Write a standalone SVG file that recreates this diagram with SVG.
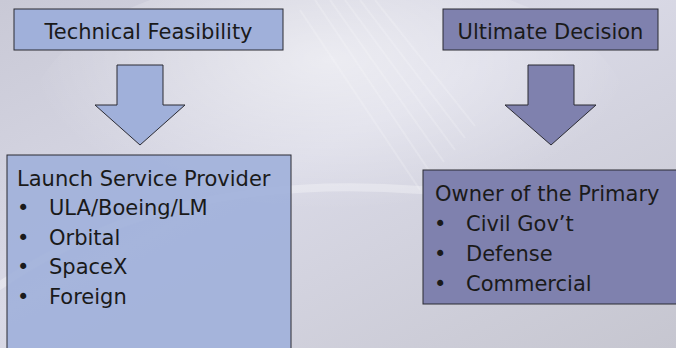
<svg xmlns="http://www.w3.org/2000/svg" width="676" height="348" viewBox="0 0 676 348">
<defs>
<linearGradient id="bg" x1="0" y1="0" x2="1" y2="1">
<stop offset="0" stop-color="#c9c9d6"/>
<stop offset="0.45" stop-color="#d9d9e6"/>
<stop offset="1" stop-color="#c6c6d0"/>
</linearGradient>
<radialGradient id="glow" cx="0.5" cy="0.3" r="0.5">
<stop offset="0" stop-color="#ffffff" stop-opacity="0.55"/>
<stop offset="1" stop-color="#ffffff" stop-opacity="0"/>
</radialGradient>
<style>
.box{stroke:#2b2b33;stroke-width:1}
.l{fill:#a0b0da}
.d{fill:#7f81ae}
.t{font-family:"DejaVu Sans",sans-serif;font-size:21px;fill:#1a1a1a}
</style>
</defs>
<rect width="676" height="348" fill="url(#bg)"/>
<ellipse cx="330" cy="120" rx="300" ry="150" fill="url(#glow)"/>
<path d="M-20 300 Q 150 170 420 190 Q 560 200 700 250" fill="none" stroke="#ffffff" stroke-opacity="0.3" stroke-width="8"/>
<g stroke="#ffffff" stroke-opacity="0.18" stroke-width="2">
<line x1="300" y1="10" x2="420" y2="190"/>
<line x1="315" y1="0" x2="432" y2="175"/>
<line x1="330" y1="0" x2="444" y2="162"/>
<line x1="345" y1="0" x2="455" y2="150"/>
<line x1="360" y1="0" x2="465" y2="138"/>
<line x1="375" y1="0" x2="475" y2="126"/>
</g>
<g id="connectors">
<polygon class="box l" points="117,65 163,65 163,105 185,105 140,145 95,105 117,105"/>
<polygon class="box d" points="528,65 574,65 574,105 596,105 551,145 505,105 528,105"/>
</g>
<g id="technical">
<rect class="box l" x="14" y="9" width="269" height="41"/>
<text class="t" x="148.5" y="38.5" text-anchor="middle">Technical Feasibility</text>
</g>
<g id="ultimate">
<rect class="box d" x="443" y="9" width="215" height="41"/>
<text class="t" x="550.5" y="38.5" text-anchor="middle">Ultimate Decision</text>
</g>
<g id="launch">
<rect class="box l" x="7" y="155" width="284" height="200" fill-opacity="0.9"/>
<text class="t" x="17" y="186">Launch Service Provider</text>
<text class="t" x="17" y="215">•</text><text class="t" x="49" y="215">ULA/Boeing/LM</text>
<text class="t" x="17" y="245">•</text><text class="t" x="49" y="245">Orbital</text>
<text class="t" x="17" y="274">•</text><text class="t" x="49" y="274">SpaceX</text>
<text class="t" x="17" y="304">•</text><text class="t" x="49" y="304">Foreign</text>
</g>
<g id="owner">
<rect class="box d" x="423" y="170" width="260" height="134"/>
<text class="t" x="435" y="201">Owner of the Primary</text>
<text class="t" x="434" y="231">•</text><text class="t" x="466" y="231">Civil Gov’t</text>
<text class="t" x="434" y="261">•</text><text class="t" x="466" y="261">Defense</text>
<text class="t" x="434" y="291">•</text><text class="t" x="466" y="291">Commercial</text>
</g>
</svg>
